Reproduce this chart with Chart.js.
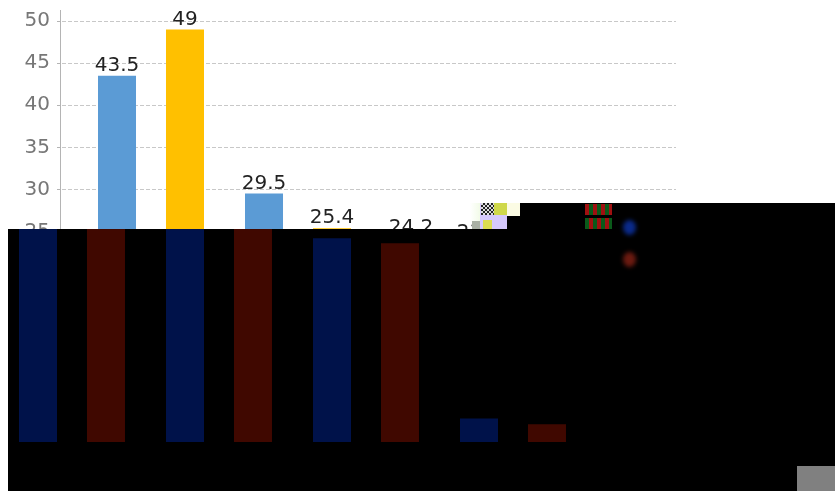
<!DOCTYPE html>
<html>
<head>
<meta charset="utf-8">
<title>Chart</title>
<script src="https://cdn.jsdelivr.net/npm/chart.js@4"></script>
<style>
    html, body { margin: 0; padding: 0; background: #fff; overflow: hidden; }
    #page { position: relative; width: 835px; height: 491px; overflow: hidden; }
    #topChart { position: absolute; left: 0; top: 0; }
    /* damaged lower part of the picture: bars are shifted left and darkened */
    #darkPanel { position: absolute; left: 8px; top: 229px; width: 827px; height: 262px; background: #000; overflow: hidden; }
    #darkChart { position: absolute; left: -87px; top: -229px; }
    .block { position: absolute; }
    .dot { position: absolute; width: 13px; height: 15px; border-radius: 50%; filter: blur(2px); }
</style>
</head>
<body>
<div id="page">
    <canvas id="topChart" width="835" height="491"></canvas>
    <div id="darkPanel"><canvas id="darkChart" width="835" height="491"></canvas></div>

    <div class="block" style="left:520px;top:203px;width:315px;height:26px;background:#000"></div>
    <div class="block" style="left:470px;top:203px;width:10px;height:19px;background:linear-gradient(90deg,#fff,#f2fbe8)"></div>
    <div class="block" style="left:472px;top:221px;width:8px;height:8px;background:#a9b0a4"></div>
    <div class="block" style="left:480px;top:203px;width:27px;height:26px;background:#d5c8fb"></div>
    <div class="block" style="left:494px;top:203px;width:13px;height:12px;background:#cfd84a"></div>
    <div class="block" style="left:481px;top:203px;width:13px;height:12px;background:repeating-conic-gradient(#222 0 25%,#ddd 0 50%) 0 0/4px 4px"></div>
    <div class="block" style="left:483px;top:220px;width:9px;height:9px;background:#dcdc50"></div>
    <div class="block" style="left:507px;top:203px;width:13px;height:13px;background:#fbfbe4"></div>
    <div class="block" style="left:507px;top:216px;width:13px;height:13px;background:#000"></div>
    <div class="block" style="left:585px;top:204px;width:27px;height:11px;background:repeating-linear-gradient(90deg,#a01010 0 4px,#0a5a1a 4px 8px)"></div>
    <div class="block" style="left:585px;top:218px;width:27px;height:11px;background:repeating-linear-gradient(90deg,#0a5a1a 0 4px,#a01010 4px 8px)"></div>

    <div class="dot" style="left:623px;top:220px;background:#0a2a8a"></div>
    <div class="dot" style="left:623px;top:252px;background:#6b1a10"></div>

    <div class="block" style="left:797px;top:466px;width:38px;height:25px;background:#808080"></div>
</div>

<script>
const categories = ["1", "2", "3", "4"];
const blueSeries = [43.5, 29.5, 24.2, 2.8];
const yellowSeries = [49, 25.4, 23.6, 2.1];
const yTicks = [0, 5, 10, 15, 20, 25, 30, 35, 40, 45, 50];

const AXIS_FONT = "'DejaVu Sans', Verdana, sans-serif";

// grid and axis run wider than the bar groups, so they are drawn from the y scale here
const gridPlugin = {
    id: 'wideGrid',
    beforeDatasetsDraw(chart) {
        const ctx = chart.ctx;
        const y = chart.scales.y;
        ctx.save();
        ctx.strokeStyle = '#c8c8c8';
        ctx.lineWidth = 1;
        ctx.setLineDash([4, 2]);
        yTicks.forEach(v => {
            const py = Math.round(y.getPixelForValue(v)) + 0.5;
            ctx.beginPath();
            ctx.moveTo(62, py);
            ctx.lineTo(676, py);
            ctx.stroke();
        });
        ctx.setLineDash([]);
        ctx.strokeStyle = '#b4b4b4';
        ctx.beginPath();
        ctx.moveTo(60.5, 10);
        ctx.lineTo(60.5, y.bottom);
        ctx.stroke();
        yTicks.forEach(v => {
            const py = Math.round(y.getPixelForValue(v)) + 0.5;
            ctx.beginPath();
            ctx.moveTo(57, py);
            ctx.lineTo(61, py);
            ctx.stroke();
        });
        ctx.restore();
    }
};

const valueLabels = {
    id: 'valueLabels',
    afterDatasetsDraw(chart) {
        const ctx = chart.ctx;
        ctx.save();
        ctx.font = "20px " + AXIS_FONT;
        ctx.fillStyle = '#222';
        ctx.textAlign = 'center';
        ctx.textBaseline = 'bottom';
        chart.data.datasets.forEach((ds, i) => {
            chart.getDatasetMeta(i).data.forEach((bar, j) => {
                ctx.fillText(String(ds.data[j]), bar.x, bar.y);
            });
        });
        ctx.restore();
    }
};

function makeChart(id, blueColor, yellowColor, tickColor, plugins) {
    return new Chart(document.getElementById(id), {
        type: 'bar',
        data: {
            labels: categories,
            datasets: [
                { label: 'Series 1', data: blueSeries, backgroundColor: blueColor },
                { label: 'Series 2', data: yellowSeries, backgroundColor: yellowColor }
            ]
        },
        options: {
            responsive: false,
            animation: false,
            devicePixelRatio: 1,
            layout: { autoPadding: false, padding: { left: 0, top: 21, right: 169.5, bottom: 49 } },
            categoryPercentage: 0.925,
            barPercentage: 0.559,
            plugins: { legend: { display: false }, title: { display: false }, tooltip: { enabled: false } },
            scales: {
                x: { display: false },
                y: {
                    min: 0,
                    max: 50,
                    afterFit: s => { s.width = 77.5; },
                    grid: { display: false, tickLength: 27.5 },
                    border: { display: false },
                    ticks: {
                        stepSize: 5,
                        color: tickColor,
                        padding: 0,
                        font: { family: AXIS_FONT, size: 20 }
                    }
                }
            }
        },
        plugins: plugins
    });
}

makeChart('topChart', '#5b9bd5', '#ffc000', '#777', [gridPlugin, valueLabels]);
makeChart('darkChart', '#00124a', '#400800', '#000', []);
</script>
</body>
</html>
